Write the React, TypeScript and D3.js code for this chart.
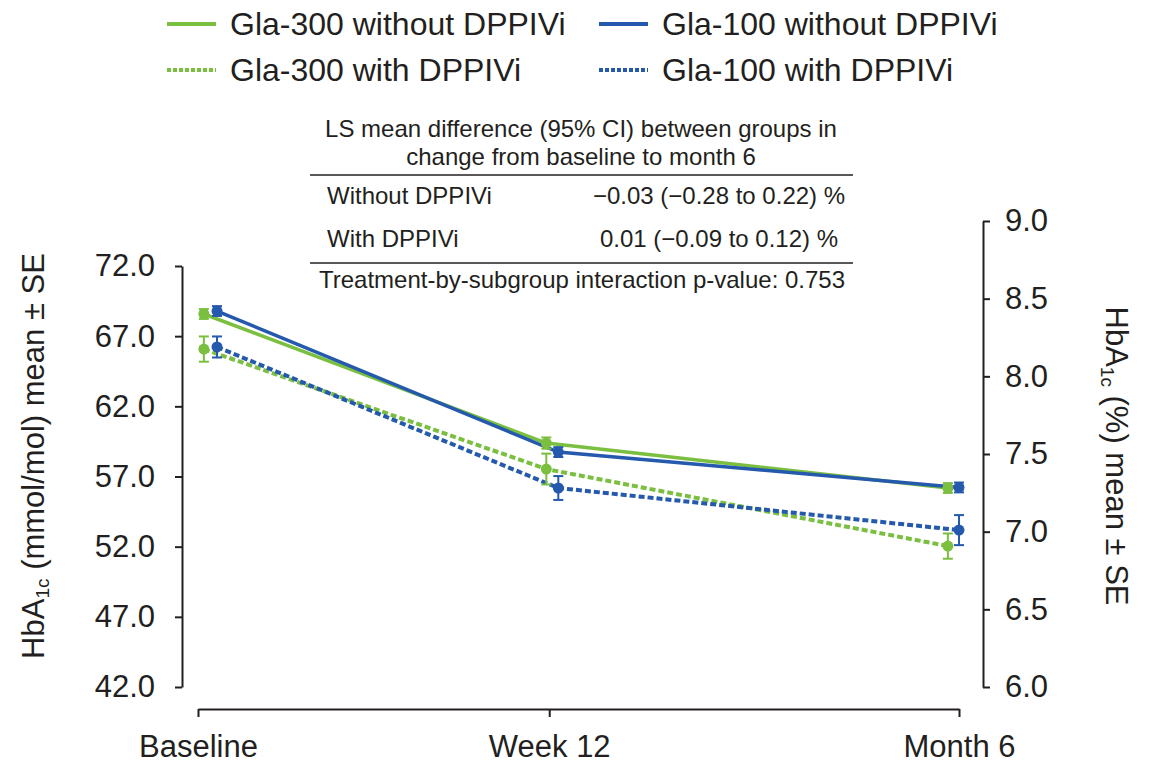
import { useEffect, useRef } from "react";
import * as d3 from "d3";

// time points (weeks) and their labels
const timeLabels = ["Baseline", "Week 12", "Month 6"];
const timeWeeks = [0, 12, 26];

// HbA1c mean (mmol/mol) and SE per series
const gla300WithoutMean = [68.58, 59.38, 56.18];
const gla300WithoutSE = [0.35, 0.4, 0.35];
const gla100WithoutMean = [68.79, 58.74, 56.22];
const gla100WithoutSE = [0.35, 0.35, 0.35];
const gla300WithMean = [66.08, 57.53, 52.04];
const gla300WithSE = [0.9, 1.1, 0.9];
const gla100WithMean = [66.23, 56.18, 53.18];
const gla100WithSE = [0.75, 0.85, 1.07];

// small horizontal dodge (in weeks) so the error bars don't overlap
const gla300Dodge = [0.2, -0.1, -0.38];
const gla100Dodge = [0.65, 0.31, 0];

const leftTicks = [42, 47, 52, 57, 62, 67, 72];
const rightTicks = [6.0, 6.5, 7.0, 7.5, 8.0, 8.5, 9.0];

const tableRows = [
  { label: "Without DPPIVi", value: "\u22120.03 (\u22120.28 to 0.22) %" },
  { label: "With DPPIVi", value: "0.01 (\u22120.09 to 0.12) %" },
];

const GREEN = "#7bbf40";
const BLUE = "#2459ad";
const INK = "#231f20";
const FONT = "'Liberation Sans', Arial, sans-serif";

const series = [
  { name: "Gla-300 without DPPIVi", mean: gla300WithoutMean, se: gla300WithoutSE, dodge: gla300Dodge, color: GREEN, dashed: false },
  { name: "Gla-100 without DPPIVi", mean: gla100WithoutMean, se: gla100WithoutSE, dodge: gla100Dodge, color: BLUE, dashed: false },
  { name: "Gla-300 with DPPIVi", mean: gla300WithMean, se: gla300WithSE, dodge: gla300Dodge, color: GREEN, dashed: true },
  { name: "Gla-100 with DPPIVi", mean: gla100WithMean, se: gla100WithSE, dodge: gla100Dodge, color: BLUE, dashed: true },
];

export default function App() {
  const ref = useRef<SVGSVGElement>(null);

  useEffect(() => {
    const svg = d3.select(ref.current);
    svg.selectAll("*").remove();

    const x = d3.scaleLinear().domain([0, 26]).range([198, 959]);
    const yL = d3.scaleLinear().domain([42, 72]).range([687, 266]);
    const yR = d3.scaleLinear().domain([6, 9]).range([687, 221]);

    // Left axis
    const gl = svg.append("g")
      .attr("transform", "translate(182,0)")
      .call(d3.axisLeft(yL).tickValues(leftTicks).tickFormat(d3.format(".1f")).tickSize(7).tickSizeOuter(0).tickPadding(20));
    // Right axis
    const gr = svg.append("g")
      .attr("transform", "translate(983,0)")
      .call(d3.axisRight(yR).tickValues(rightTicks).tickFormat(d3.format(".1f")).tickSize(7).tickSizeOuter(0).tickPadding(15));
    // Bottom axis
    const gb = svg.append("g")
      .attr("transform", "translate(0,709)")
      .call(d3.axisBottom(x).tickValues(timeWeeks).tickFormat((d, i) => timeLabels[i]).tickSize(8).tickSizeOuter(0).tickPadding(18));

    [gl, gr, gb].forEach((g) => {
      g.attr("font-family", FONT).attr("font-size", 31);
      g.selectAll("path, line").attr("stroke", INK).attr("stroke-width", 2);
      g.selectAll("text").attr("fill", INK);
    });

    // Axis titles
    const lt = svg.append("text")
      .attr("transform", "translate(33,456) rotate(-90)")
      .attr("text-anchor", "middle")
      .attr("dominant-baseline", "central")
      .attr("font-family", FONT).attr("font-size", 31).attr("fill", INK);
    lt.append("tspan").text("HbA");
    lt.append("tspan").attr("font-size", 19).attr("dy", 9).text("1c");
    lt.append("tspan").attr("dy", -9).text(" (mmol/mol) mean \u00b1 SE");

    const rt = svg.append("text")
      .attr("transform", "translate(1117,456) rotate(90)")
      .attr("text-anchor", "middle")
      .attr("dominant-baseline", "central")
      .attr("font-family", FONT).attr("font-size", 31).attr("fill", INK);
    rt.append("tspan").text("HbA");
    rt.append("tspan").attr("font-size", 19).attr("dy", 9).text("1c");
    rt.append("tspan").attr("dy", -9).text(" (%) mean \u00b1 SE");

    // Lines
    series.forEach((s) => {
      const pts = s.mean.map((m, i) => ({ x: x(timeWeeks[i] + s.dodge[i]), y: yL(m) }));
      svg.append("path")
        .datum(pts)
        .attr("d", d3.line<{ x: number; y: number }>().x((d) => d.x).y((d) => d.y))
        .attr("fill", "none")
        .attr("stroke", s.color)
        .attr("stroke-width", s.dashed ? 4 : 3.5)
        .attr("stroke-dasharray", s.dashed ? "6,3" : null);
    });

    // Error bars and markers
    series.forEach((s) => {
      const g = svg.append("g");
      s.mean.forEach((m, i) => {
        const cx = x(timeWeeks[i] + s.dodge[i]);
        const lo = yL(m - s.se[i]);
        const hi = yL(m + s.se[i]);
        g.append("line").attr("x1", cx).attr("x2", cx).attr("y1", lo).attr("y2", hi)
          .attr("stroke", s.color).attr("stroke-width", 2);
        [lo, hi].forEach((yy) => {
          g.append("line").attr("x1", cx - 5).attr("x2", cx + 5).attr("y1", yy).attr("y2", yy)
            .attr("stroke", s.color).attr("stroke-width", 2);
        });
        g.append("circle").attr("cx", cx).attr("cy", yL(m)).attr("r", 5.5).attr("fill", s.color);
      });
    });

    // Legend
    const legendPos = [
      { lx: 167, ly: 24 },
      { lx: 599, ly: 24 },
      { lx: 167, ly: 70 },
      { lx: 599, ly: 70 },
    ];
    series.forEach((s, i) => {
      const p = legendPos[i];
      svg.append("line")
        .attr("x1", p.lx).attr("x2", p.lx + 49).attr("y1", p.ly).attr("y2", p.ly)
        .attr("stroke", s.color).attr("stroke-width", 4)
        .attr("stroke-dasharray", s.dashed ? "4,2" : null);
      svg.append("text")
        .attr("x", p.lx + 63).attr("y", p.ly)
        .attr("dominant-baseline", "central")
        .attr("font-family", FONT).attr("font-size", 32).attr("fill", INK)
        .text(s.name);
    });

    // Table
    const tb = svg.append("g").attr("font-family", FONT).attr("font-size", 24).attr("fill", INK);
    tb.append("text").attr("x", 581).attr("y", 137).attr("text-anchor", "middle")
      .text("LS mean difference (95% CI) between groups in");
    tb.append("text").attr("x", 581).attr("y", 165).attr("text-anchor", "middle")
      .text("change from baseline to month 6");
    tb.append("line").attr("x1", 310).attr("x2", 853).attr("y1", 175).attr("y2", 175)
      .attr("stroke", INK).attr("stroke-width", 1.5);
    tableRows.forEach((r, i) => {
      const yy = 204 + i * 43;
      tb.append("text").attr("x", 327).attr("y", yy).text(r.label);
      tb.append("text").attr("x", 719).attr("y", yy).attr("text-anchor", "middle").text(r.value);
    });
    tb.append("line").attr("x1", 310).attr("x2", 853).attr("y1", 263).attr("y2", 263)
      .attr("stroke", INK).attr("stroke-width", 1.5);
    tb.append("text").attr("x", 582).attr("y", 288).attr("text-anchor", "middle")
      .text("Treatment-by-subgroup interaction p-value: 0.753");
  }, []);

  return (
    <svg
      ref={ref}
      width={1149}
      height={765}
      style={{ position: "absolute", left: 0, top: 0, background: "#fff" }}
    />
  );
}
